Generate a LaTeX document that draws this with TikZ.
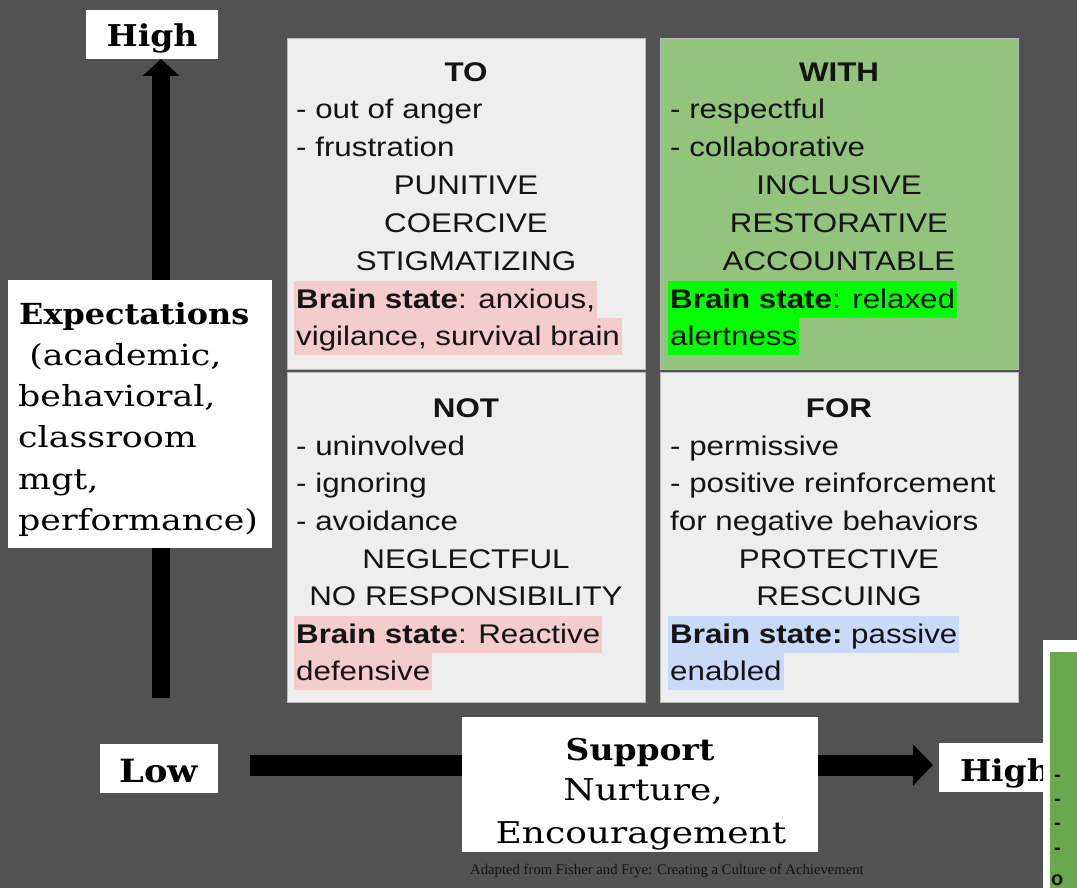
\documentclass[tikz,border=0pt]{standalone}
\usepackage{fontspec}
\setmainfont{Liberation Sans}
\newfontfamily\qfont[FakeStretch=1.16]{Liberation Sans}
\newfontfamily\sfont[FakeStretch=1.2]{DejaVu Serif}
\newfontfamily\sbfont[FakeStretch=1.1]{DejaVu Serif Bold}
\newfontfamily\tfont{Liberation Serif}
\usetikzlibrary{arrows.meta}
\definecolor{bg}{HTML}{525252}
\definecolor{lgray}{HTML}{EEEEEE}
\definecolor{lgreen}{HTML}{93C47D}
\definecolor{dgreen}{HTML}{6AA84F}
\definecolor{hpink}{HTML}{F4CCCC}
\definecolor{hgreen}{HTML}{00FF00}
\definecolor{hblue}{HTML}{C9DAF8}
\definecolor{ink}{HTML}{141414}
\tikzset{
  qbox/.style={anchor=north west, minimum width=358pt, draw=gray!55, line width=0.8pt, inner sep=0pt, outer sep=0pt},
  qtxt/.style={font=\qfont\fontsize{27}{30}\selectfont, inner sep=0pt, text=ink},
  lline/.style={qtxt, anchor=base west},
  cline/.style={qtxt, anchor=base},
  hl/.style={qtxt, anchor=base west, inner xsep=2pt, inner ysep=0pt, text height=27pt, text depth=10pt, fill=#1},
  wbox/.style={fill=white, inner sep=0pt, outer sep=0pt},
  stxt/.style={font=\sfont\fontsize{29}{34}\selectfont, inner sep=0pt, text=black, anchor=base west},
  btxt/.style={font=\sbfont\fontsize{30}{36}\selectfont, inner sep=0pt, text=black},
  axis/.style={line width=#1, black},
}
\begin{document}
\begin{tikzpicture}[x=1pt,y=-1pt]
\useasboundingbox (0,0) rectangle (1077,888);
\clip (0,0) rectangle (1077,888);
\fill[bg] (0,0) rectangle (1077,888);

% quadrants
\node[qbox, fill=lgray, minimum height=331pt] (qto) at (287,38) {};
\node[qbox, fill=lgreen, minimum height=331pt] (qwith) at (660,38) {};
\node[qbox, fill=lgray, minimum height=330pt] (qnot) at (287,372) {};
\node[qbox, fill=lgray, minimum height=330pt] (qfor) at (660,372) {};

% TO
\node[cline] (to0) at (466,82) {\bfseries TO};
\node[lline] (to1) at (296,119) {- out of anger};
\node[lline] (to2) at (296,157) {- frustration};
\node[cline] (to3) at (466,195) {PUNITIVE};
\node[cline] (to4) at (466,233) {COERCIVE};
\node[cline] (to5) at (466,270) {STIGMATIZING};
\node[hl=hpink] (to6) at (294,308) {\bfseries Brain state\mdseries: anxious,};
\node[hl=hpink] (to7) at (294,345) {vigilance, survival brain};

% WITH
\node[cline] (wi0) at (839,82) {\bfseries WITH};
\node[lline] (wi1) at (670,119) {- respectful};
\node[lline] (wi2) at (670,157) {- collaborative};
\node[cline] (wi3) at (839,195) {INCLUSIVE};
\node[cline] (wi4) at (839,233) {RESTORATIVE};
\node[cline] (wi5) at (839,270) {ACCOUNTABLE};
\node[hl=hgreen] (wi6) at (668,308) {\bfseries Brain state\mdseries: relaxed};
\node[hl=hgreen] (wi7) at (668,345) {alertness};

% NOT
\node[cline] (no0) at (466,417) {\bfseries NOT};
\node[lline] (no1) at (296,455) {- uninvolved};
\node[lline] (no2) at (296,492) {- ignoring};
\node[lline] (no3) at (296,530) {- avoidance};
\node[cline] (no4) at (466,568) {NEGLECTFUL};
\node[cline] (no5) at (466,605) {NO RESPONSIBILITY};
\node[hl=hpink] (no6) at (294,643) {\bfseries Brain state\mdseries: Reactive};
\node[hl=hpink] (no7) at (294,680) {defensive};

% FOR
\node[cline] (fo0) at (839,417) {\bfseries FOR};
\node[lline] (fo1) at (670,455) {- permissive};
\node[lline] (fo2) at (670,492) {- positive reinforcement};
\node[lline] (fo3) at (670,530) {for negative behaviors};
\node[cline] (fo4) at (839,568) {PROTECTIVE};
\node[cline] (fo5) at (839,605) {RESCUING};
\node[hl=hblue] (fo6) at (668,643) {\bfseries Brain state:\mdseries\ passive};
\node[hl=hblue] (fo7) at (668,680) {enabled};

% axis labels (High / Low)
\node[wbox, btxt, anchor=base, minimum width=132pt, text height=37pt, text depth=12pt] (hiy) at (152,47) {High};
\node[wbox, btxt, font=\sbfont\fontsize{32}{36}\selectfont, anchor=base, minimum width=118pt, text height=38pt, text depth=11pt] (lowx) at (159,782) {Low};
\node[wbox, btxt, anchor=base west, inner xsep=21pt, text height=38pt, text depth=11pt] (hix) at (939,781) {High};

% arrows
\coordinate (vbot) at (161,698);
\coordinate (hleft) at (250,765);
\draw[axis=18pt, -{Triangle[length=17pt,width=36pt]}] (vbot) -- (vbot |- hiy.south);
\draw[axis=21pt, -{Triangle[length=20pt,width=40pt]}, shorten >=6pt] (hleft) -- (hleft -| hix.west);

% Expectations box
\node[wbox, anchor=north west, minimum width=264pt, minimum height=268pt] (expb) at (8,280) {};
\node[stxt, font=\sbfont\fontsize{29}{34}\selectfont] (ex1) at (19,324) {Expectations};
\node[stxt] (ex2) at (18,365) {\ (academic,};
\node[stxt] (ex3) at (18,406) {behavioral,};
\node[stxt] (ex4) at (18,447) {classroom};
\node[stxt] (ex5) at (18,489) {mgt,};
\node[stxt] (ex6) at (18,530) {performance)};

% Support box
\node[wbox, anchor=north west, minimum width=356pt, minimum height=135pt] (supb) at (462,717) {};
\node[btxt, anchor=base] (su1) at (640,760) {Support};
\node[btxt, anchor=base, font=\sfont\fontsize{30}{36}\selectfont] (su2) at (643,800) {Nurture,};
\node[btxt, anchor=base, font=\sfont\fontsize{30}{36}\selectfont] (su3) at (641,843) {Encouragement};

% caption
\node[font=\tfont\fontsize{14.7}{16}\selectfont, text=ink, inner sep=0pt, anchor=base] (cap) at (667,874) {Adapted from Fisher and Frye: Creating a Culture of Achievement};

% partial green box at bottom right
\fill[white] (1043,640) rectangle (1090,900);
\node[fill=dgreen, anchor=north west, minimum width=40pt, minimum height=260pt, inner sep=0pt] (gbox) at (1050,652) {};
\foreach \yy/\nm in {781/d1,805/d2,829/d3,854/d4}
  \node[font=\bfseries\fontsize{20}{22}\selectfont, inner sep=0pt, anchor=base west, text=ink] (\nm) at (1054,\yy) {-};
\node[font=\bfseries\fontsize{20}{22}\selectfont, inner sep=0pt, anchor=base west, text=ink] (d5) at (1051,885) {o};
\end{tikzpicture}
\end{document}
